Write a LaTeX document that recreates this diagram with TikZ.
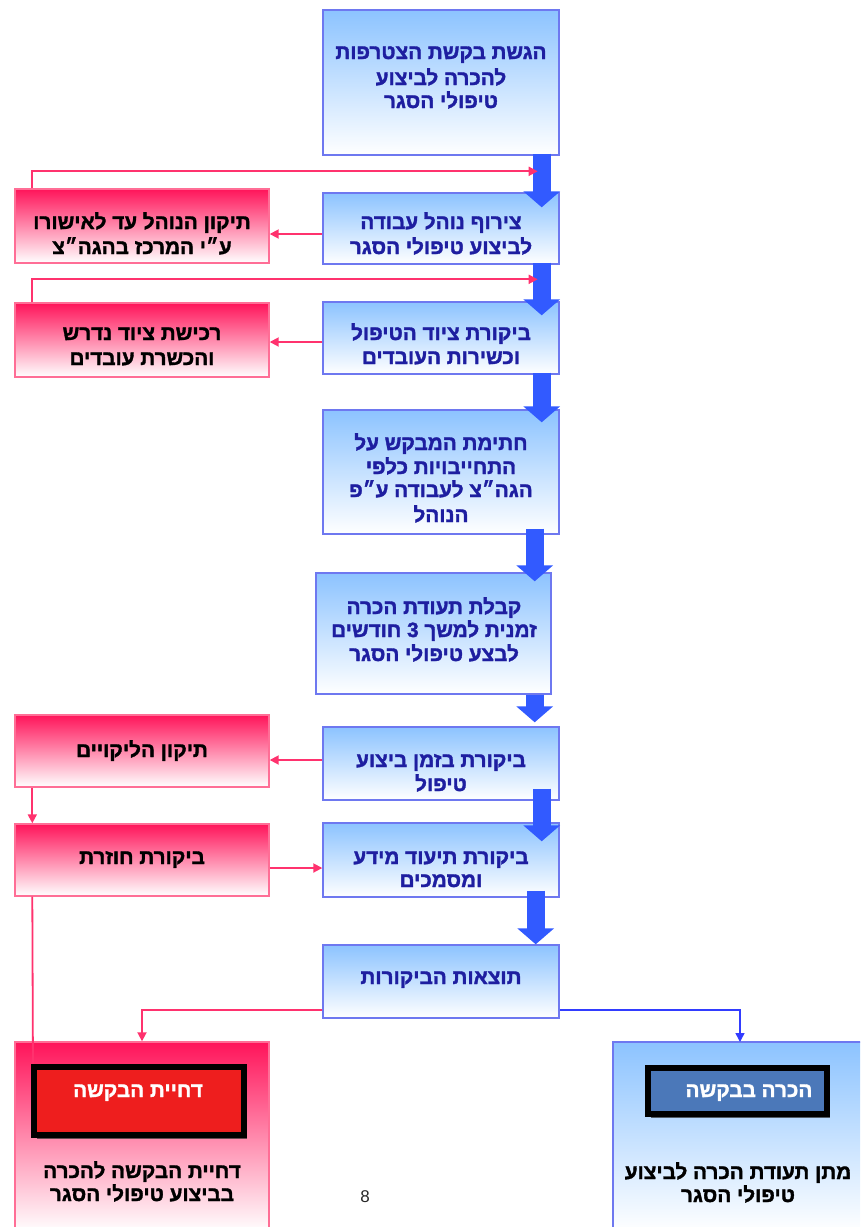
\documentclass[tikz,border=0pt]{standalone}
\usepackage{fontspec}
\setmainfont{Liberation Sans}
\newfontfamily\hebfont[Script=Hebrew, BoldFeatures={FakeBold=1.6}]{Liberation Sans}
\TeXXeTstate=1
\usetikzlibrary{arrows.meta,calc,shadows}
\newcommand{\heb}[1]{\hebfont\beginR #1\endR}
\definecolor{bboxtop}{RGB}{140,195,255}
\definecolor{bboxline}{RGB}{110,120,240}
\definecolor{btext}{RGB}{30,30,160}
\definecolor{rboxtop}{RGB}{255,20,90}
\definecolor{rboxline}{RGB}{255,110,150}
\definecolor{pinkc}{RGB}{255,50,110}
\definecolor{bigblue}{RGB}{50,90,255}
\definecolor{thinblue}{RGB}{50,60,255}
\definecolor{innerred}{RGB}{238,30,30}
\definecolor{innerblue}{RGB}{75,120,185}
\begin{document}
\begin{tikzpicture}[x=1pt,y=-1pt,
  bbox/.style={draw=bboxline, line width=1.4pt, rectangle, inner sep=0pt, top color=bboxtop, bottom color=white},
  rbox/.style={draw=rboxline, line width=1.4pt, rectangle, inner sep=0pt, top color=rboxtop, bottom color=white},
  btxt/.style={anchor=base, yshift=-7pt, inner sep=0pt, text=btext, font=\fontsize{20.7}{24}\bfseries},
  rtxt/.style={anchor=base, yshift=-7pt, inner sep=0pt, text=black, font=\fontsize{20.7}{24}\bfseries},
  wtxt/.style={anchor=base, yshift=-7pt, inner sep=0pt, text=white, font=\fontsize{20.7}{24}\bfseries},
  bigarrow/.style={draw=bigblue, line width=18pt, -{Triangle[width=36pt,length=16pt]}},
  pinkarrow/.style={draw=pinkc, line width=1.8pt, -{Triangle[width=9pt,length=9pt]}},
  pinkline/.style={draw=pinkc, line width=1.8pt},
  bluearrow/.style={draw=thinblue, line width=1.4pt, -{Triangle[width=9pt,length=9pt]}},
  innerbox/.style={draw=black, line width=6pt, rectangle, inner sep=0pt, drop shadow={shadow xshift=3pt, shadow yshift=-4pt, opacity=0.75, fill=black!80}}
]
\useasboundingbox (0,0) rectangle (860,1227);
\clip (0,0) rectangle (860,1227);
\fill[white] (0,0) rectangle (860,1227);

% main blue boxes
\node[bbox, minimum width=236pt, minimum height=145pt] (b1) at (441,82.5) {};
\node[bbox, minimum width=236pt, minimum height=71pt] (b2) at (441,228.5) {};
\node[bbox, minimum width=236pt, minimum height=72pt] (b3) at (441,338) {};
\node[bbox, minimum width=236pt, minimum height=124pt] (b4) at (441,472) {};
\node[bbox, minimum width=235pt, minimum height=121pt] (b5) at (433.5,633.5) {};
\node[bbox, minimum width=236pt, minimum height=73pt] (b6) at (441,763.5) {};
\node[bbox, minimum width=236pt, minimum height=74pt] (b7) at (441,860) {};
\node[bbox, minimum width=236pt, minimum height=73pt] (b8) at (441,981.5) {};
\node[bbox, minimum width=253pt, minimum height=190pt] (g9) at (739.5,1137) {};

% red boxes
\node[rbox, minimum width=254pt, minimum height=74pt] (r1) at (142,226) {};
\node[rbox, minimum width=254pt, minimum height=74pt] (r2) at (142,340) {};
\node[rbox, minimum width=254pt, minimum height=72pt] (r3) at (142,751) {};
\node[rbox, minimum width=254pt, minimum height=72pt] (r4) at (142,860) {};
\node[rbox, minimum width=254pt, minimum height=190pt] (r5) at (142,1137) {};

% texts
\node[btxt] (t1a) at (441,52) {\heb{הגשת בקשת הצטרפות}};
\node[btxt] (t1b) at (441,78) {\heb{להכרה לביצוע}};
\node[btxt] (t1c) at (441,101) {\heb{טיפולי הסגר}};
\node[btxt] (t2a) at (441,222) {\heb{צירוף נוהל עבודה}};
\node[btxt] (t2b) at (441,247) {\heb{לביצוע טיפולי הסגר}};
\node[btxt] (t3a) at (441,333) {\heb{ביקורת ציוד הטיפול}};
\node[btxt] (t3b) at (441,357) {\heb{וכשירות העובדים}};
\node[btxt] (t4a) at (441,443) {\heb{חתימת המבקש על}};
\node[btxt] (t4b) at (441,467) {\heb{התחייבויות כלפי}};
\node[btxt] (t4c) at (441,490) {\heb{הגה״צ לעבודה ע״פ}};
\node[btxt] (t4d) at (441,515) {\heb{הנוהל}};
\node[btxt] (t5a) at (434,607) {\heb{קבלת תעודת הכרה}};
\node[btxt] (t5b) at (434,630) {\heb{זמנית למשך 3 חודשים}};
\node[btxt] (t5c) at (434,654) {\heb{לבצע טיפולי הסגר}};
\node[btxt] (t6a) at (441,760) {\heb{ביקורת בזמן ביצוע}};
\node[btxt] (t6b) at (441,784) {\heb{טיפול}};
\node[btxt] (t7a) at (441,857) {\heb{ביקורת תיעוד מידע}};
\node[btxt] (t7b) at (441,880) {\heb{ומסמכים}};
\node[btxt] (t8a) at (441,977) {\heb{תוצאות הביקורות}};
\node[rtxt] (u1a) at (142,222) {\heb{תיקון הנוהל עד לאישורו}};
\node[rtxt] (u1b) at (142,247) {\heb{ע״י המרכז בהגה״צ}};
\node[rtxt] (u2a) at (142,333) {\heb{רכישת ציוד נדרש}};
\node[rtxt] (u2b) at (142,358) {\heb{והכשרת עובדים}};
\node[rtxt] (u3a) at (142,750) {\heb{תיקון הליקויים}};
\node[rtxt] (u4a) at (142,857) {\heb{ביקורת חוזרת}};
\node[rtxt] (u5b) at (142,1171) {\heb{דחיית הבקשה להכרה}};
\node[rtxt] (u5c) at (142,1194) {\heb{בביצוע טיפולי הסגר}};
\node[rtxt] (v9b) at (738,1172) {\heb{מתן תעודת הכרה לביצוע}};
\node[rtxt] (v9c) at (738,1195) {\heb{טיפולי הסגר}};
\node[anchor=base, inner sep=0pt, text={rgb,255:red,40;green,40;blue,40}, font=\fontsize{17}{20}\selectfont] (pg) at (365,1202) {8};

% big blue arrows
\draw[bigarrow] ($(b1.south east)+(-18,-2)$) -- ($(b2.north east)+(-18,15)$);
\draw[bigarrow] ($(b2.south east)+(-18,-2)$) -- ($(b3.north east)+(-18,14)$);
\draw[bigarrow] ($(b3.south east)+(-18,-2)$) -- ($(b4.north east)+(-18,13)$);
\draw[bigarrow] ($(b4.south east)+(-25,-6)$) -- ($(b5.north east)+(-17,9)$);
\draw[bigarrow] ($(b5.south east)+(-17,0)$) -- ($(b6.north east)+(-25,-4)$);
\draw[bigarrow] ($(b6.south east)+(-18,-12)$) -- ($(b7.north east)+(-18,19)$);
\draw[bigarrow] ($(b7.south east)+(-24,-7)$) -- ($(b8.north east)+(-24,0)$);

% pink connectors
\draw[pinkarrow] ($(r1.north west)+(18,0)$) |- ($(b2.north east)+(-22,-21)$);
\draw[pinkarrow] ($(r2.north west)+(18,0)$) |- ($(b3.north east)+(-22,-22)$);
\draw[pinkarrow] ($(b2.west)+(0,5.5)$) coordinate (c2) -- (r1.east |- c2);
\draw[pinkarrow] ($(b3.west)+(0,4)$) coordinate (c3) -- (r2.east |- c3);
\draw[pinkarrow] ($(b6.west)+(0,-3.5)$) coordinate (c6) -- (r3.east |- c6);
\draw[pinkarrow] ($(r3.south west)+(18,0)$) -- ($(r4.north west)+(18,0)$);
\draw[pinkarrow] ($(r4.east)+(0,8)$) coordinate (c7) -- (b7.west |- c7);
\draw[pinkarrow] ($(b8.west)+(0,28.5)$) -- (142,1010) -- (r5.north);
\draw[bluearrow] ($(b8.east)+(0,28.5)$) -- (740,1010) -- (740,1042);
\draw[pinkline] ($(r4.south west)+(18,0)$) -- (33,1075);

% inner boxes
\node[innerbox, fill=innerred, minimum width=210pt, minimum height=68pt] (i5) at (139,1101) {};
\node[wtxt] (i5t) at (138,1090) {\heb{דחיית הבקשה}};
\node[innerbox, fill=innerblue, minimum width=179pt, minimum height=46pt] (i9) at (737.5,1091) {};
\node[wtxt] (i9t) at (749,1090) {\heb{הכרה בבקשה}};
\end{tikzpicture}
\end{document}
